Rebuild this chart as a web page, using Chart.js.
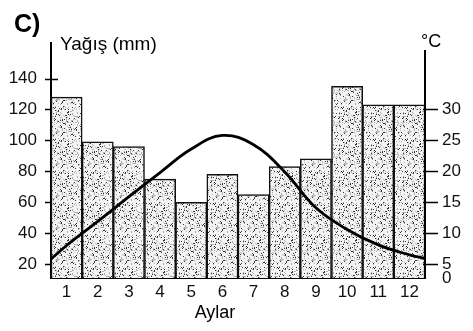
<!DOCTYPE html>
<html>
<head>
<meta charset="utf-8">
<script src="https://cdn.jsdelivr.net/npm/chart.js@4/dist/chart.umd.min.js"></script>
<style>
    html, body { margin: 0; padding: 0; background: #fff; }
    #wrap { width: 473px; height: 331px; }
</style>
</head>
<body>
<div id="wrap"><canvas id="climate-chart" width="473" height="331"></canvas></div>
<script>
// --- Data ---
const months = [1, 2, 3, 4, 5, 6, 7, 8, 9, 10, 11, 12];
const rainfall = [128, 99, 96, 75, 60, 78, 65, 83, 88, 135, 123, 123];
// temperature curve runs from the left axis to the right axis
const tempMonths = [0.5, 1, 2, 3, 4, 5, 6, 7, 8, 9, 10, 11, 12, 12.5];
const temperature = [5.8, 8.0, 11.9, 15.9, 19.8, 23.6, 25.8, 24.3, 19.9, 14.1, 10.6, 8.1, 6.5, 5.9];
const rainTicks = [20, 40, 60, 80, 100, 120, 140];
const tempTicks = [0, 5, 10, 15, 20, 25, 30];

const FONT = "'Liberation Sans', Arial, sans-serif";

// stippled grey fill like the printed bars
function makeStipple() {
    const c = document.createElement('canvas');
    c.width = 32; c.height = 32;
    const g = c.getContext('2d');
    g.fillStyle = '#f4f4f4';
    g.fillRect(0, 0, 32, 32);
    for (let y = 0; y < 32; y++) {
        for (let x = 0; x < 32; x++) {
            const h = (x * 37 + y * 91 + x * y * 13 + (x ^ y) * 7) % 23;
            if (h < 2) { g.fillStyle = '#333'; g.fillRect(x, y, 1, 1); }
            else if (h === 5 || h === 9 || h === 14) { g.fillStyle = '#b0b0b0'; g.fillRect(x, y, 1, 1); }
        }
    }
    return g.createPattern(c, 'repeat');
}

// tick marks that cross the axis lines, the shorter right axis, plus the free text
const axisMarks = {
    id: 'axisMarks',
    beforeDatasetsDraw(chart) {
        const ctx = chart.ctx;
        const s = chart.scales.y;
        ctx.save();
        ctx.strokeStyle = '#000';
        ctx.lineWidth = 1.5;
        s.ticks.forEach(t => {
            const py = Math.round(s.getPixelForValue(t.value)) + 0.5;
            ctx.beginPath();
            ctx.moveTo(s.right - 6, py);
            ctx.lineTo(s.right + 7, py);
            ctx.stroke();
        });
        ctx.restore();
    },
    afterDatasetsDraw(chart) {
        const ctx = chart.ctx;
        const s = chart.scales.y1;
        const area = chart.chartArea;
        ctx.save();
        ctx.strokeStyle = '#000';
        ctx.lineWidth = 2;
        ctx.beginPath();
        ctx.moveTo(s.left, area.top + 7);
        ctx.lineTo(s.left, area.bottom);
        ctx.stroke();
        ctx.lineWidth = 1.5;
        s.ticks.forEach(t => {
            if (t.value === s.min) return;
            const py = Math.round(s.getPixelForValue(t.value)) + 0.5;
            ctx.beginPath();
            ctx.moveTo(s.left - 2, py);
            ctx.lineTo(s.left + 13, py);
            ctx.stroke();
        });
        ctx.restore();
    },
    afterDraw(chart) {
        const ctx = chart.ctx;
        ctx.save();
        ctx.fillStyle = '#000';
        ctx.textBaseline = 'alphabetic';
        ctx.font = 'bold 25px ' + FONT;
        ctx.fillText('C)', 14, 32);
        ctx.font = '19px ' + FONT;
        ctx.fillText('Yağış (mm)', 60, 50);
        ctx.font = '18px ' + FONT;
        ctx.fillText('°C', 421, 47);
        ctx.textAlign = 'center';
        ctx.fillText('Aylar', 215, 318);
        ctx.restore();
    }
};

document.addEventListener('DOMContentLoaded', () => {
    const ctx = document.getElementById('climate-chart').getContext('2d');
    const stipple = makeStipple();

    new Chart(ctx, {
        data: {
            datasets: [{
                type: 'line',
                label: 'Sıcaklık',
                data: tempMonths.map((m, i) => ({ x: m, y: temperature[i] })),
                yAxisID: 'y1',
                borderColor: '#000',
                borderWidth: 2.8,
                pointRadius: 0,
                tension: 0.4,
                fill: false,
                order: 0
            }, {
                type: 'bar',
                label: 'Yağış',
                data: months.map((m, i) => ({ x: m, y: rainfall[i] })),
                yAxisID: 'y',
                backgroundColor: stipple,
                borderColor: '#111',
                borderWidth: 1.5,
                barPercentage: 1,
                categoryPercentage: 1,
                order: 1
            }]
        },
        options: {
            responsive: false,
            animation: false,
            layout: { padding: { left: 9, right: 0, top: 43, bottom: 29 } },
            plugins: { legend: { display: false }, tooltip: { enabled: false } },
            scales: {
                x: {
                    type: 'linear',
                    offset: false,
                    min: 0.5,
                    max: 12.5,
                    afterBuildTicks: s => { s.ticks = months.map(v => ({ value: v })); },
                    afterFit: s => { s.height = 24; s.paddingLeft = 0; s.paddingRight = 0; },
                    grid: { display: false, drawTicks: false },
                    border: { display: true, color: '#000', width: 2 },
                    ticks: { color: '#111', padding: 4, font: { family: FONT, size: 17 } }
                },
                y: {
                    position: 'left',
                    min: 11,
                    max: 163,
                    afterBuildTicks: s => { s.ticks = rainTicks.map(v => ({ value: v })); },
                    afterFit: s => { s.width = 42; },
                    grid: { display: false, drawTicks: false },
                    border: { display: true, color: '#000', width: 2 },
                    ticks: { color: '#111', padding: 14, font: { family: FONT, size: 17 } }
                },
                y1: {
                    position: 'right',
                    min: 2.75,
                    max: 40.75,
                    afterBuildTicks: s => {
                        s.ticks = tempTicks.map(v => ({ value: v === 0 ? s.min : v }));
                    },
                    afterFit: s => { s.width = 48; },
                    grid: { display: false, drawTicks: false },
                    border: { display: false },
                    ticks: {
                        color: '#111',
                        padding: 17,
                        font: { family: FONT, size: 17 },
                        callback: (v, i) => String(tempTicks[i])
                    }
                }
            }
        },
        plugins: [axisMarks]
    });
});
</script>
</body>
</html>
